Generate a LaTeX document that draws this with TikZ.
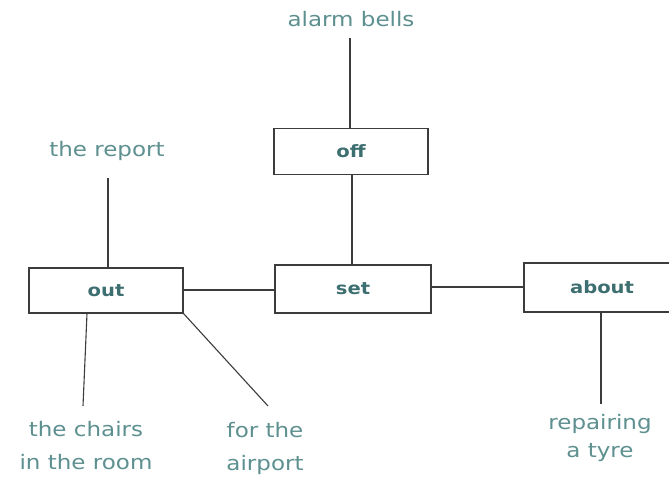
\documentclass[tikz,border=0pt]{standalone}
\usepackage{fontspec}
\newfontfamily\hand[FakeStretch=1.15]{DejaVu Sans}
\newfontfamily\handb[FakeStretch=1.15]{DejaVu Sans Bold}
\definecolor{tealtext}{HTML}{5E9090}
\definecolor{tealbold}{HTML}{3E6F70}
\definecolor{inkline}{HTML}{3C3C3C}
\tikzset{
  wordbox/.style={draw=inkline, line width=1.1pt, rectangle, inner sep=0pt,
     font=\handb\fontsize{17}{17}\selectfont, text=tealbold},
  wordtext/.style={inner sep=0pt, align=center, text=tealtext,
     font=\hand\fontsize{20}{33}\selectfont},
  link/.style={draw=inkline, line width=1.1pt}
}
\begin{document}
\begin{tikzpicture}[x=1pt,y=-1pt]
\clip (0,0) rectangle (669,479);
\fill[white] (0,0) rectangle (669,479);
% boxes
\node[wordbox, minimum width=154pt, minimum height=45pt] (out) at (106,290.5) {out};
\node[wordbox, minimum width=154pt, minimum height=46pt] (off) at (351,151.5) {off};
\node[wordbox, minimum width=156pt, minimum height=48pt] (set) at (353,289) {set};
\node[wordbox, minimum width=156pt, minimum height=49pt] (about) at (602,287.5) {about};
% texts
\node[wordtext] (alarm) at (351,19) {alarm bells};
\node[wordtext] (report) at (107,151) {the report};
\node[wordtext] (chairs) at (86,446) {the chairs\\in the room};
\node[wordtext] (airport) at (265,448) {for the\\airport};
\node[wordtext, font=\hand\fontsize{20}{28}\selectfont] (tyre) at (600,438) {repairing\\a tyre};
% free ends
\coordinate (alarmEnd) at (350,38);
\coordinate (reportEnd) at (108,178);
\coordinate (chairsEnd) at (83,406);
\coordinate (airportEnd) at (268,406);
\coordinate (tyreEnd) at (601,404);
% connectors
\draw[link] (alarmEnd) -- (alarmEnd |- off.north);
\draw[link] (off.south -| 352,0) -- (set.north -| 352,0);
\draw[link] (out.east |- 0,290) -- (set.west |- 0,290);
\draw[link] (set.east |- 0,287) -- (about.west |- 0,287);
\draw[link] (reportEnd) -- (reportEnd |- out.north);
\draw[link] (out.south -| 87,0) -- (chairsEnd);
\draw[link] (out.south east) -- (airportEnd);
\draw[link] (about.south -| tyreEnd) -- (tyreEnd);
\end{tikzpicture}
\end{document}
